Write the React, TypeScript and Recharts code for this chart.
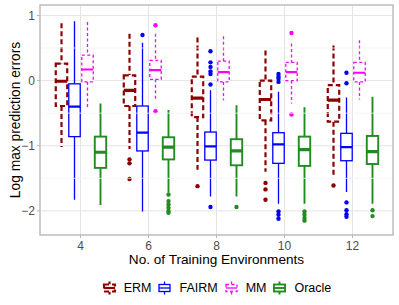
import React from 'react';
import { ComposedChart, Bar, XAxis, YAxis, CartesianGrid, ReferenceLine } from 'recharts';

const environments = ['4', '6', '8', '10', '12'];

// [lower whisker, Q1, median, Q3, upper whisker] for each environment count
const ermBoxes = [
  [-1.02, -0.39, -0.01, 0.26, 0.88],
  [-1.05, -0.39, -0.15, 0.08, 0.72],
  [-1.37, -0.56, -0.27, 0.06, 0.66],
  [-1.4, -0.61, -0.29, 0.0, 0.46],
  [-1.48, -0.63, -0.3, -0.07, 0.54],
];
const ermOutliers = [[], [-1.21, -1.27, -1.51], [-1.62], [-1.57, -1.67, -1.83], [-1.61]];

const fairmBoxes = [
  [-1.83, -0.86, -0.4, -0.05, 0.91],
  [-2.01, -1.08, -0.8, -0.39, 0.58],
  [-1.78, -1.22, -1.01, -0.79, -0.15],
  [-1.89, -1.27, -0.98, -0.8, -0.17],
  [-1.71, -1.23, -1.02, -0.81, -0.26],
];
const fairmOutliers = [
  [],
  [0.7],
  [0.45, 0.28, 0.21, 0.14, 0.1, -0.06, -1.94],
  [0.1, 0.06, 0.03, -0.02, -2.01, -2.06, -2.12],
  [0.12, -0.04, -1.87, -1.99, -2.05, -2.09],
];

const mmBoxes = [
  [-0.43, -0.02, 0.17, 0.39, 0.9],
  [-0.3, 0.02, 0.16, 0.31, 0.72],
  [-0.3, -0.02, 0.13, 0.3, 0.68],
  [-0.35, 0.0, 0.13, 0.28, 0.57],
  [-0.29, -0.02, 0.12, 0.28, 0.62],
];
const mmOutliers = [[], [0.85, -0.47], [], [0.73, -0.52], []];

const oracleBoxes = [
  [-1.91, -1.34, -1.1, -0.86, -0.35],
  [-1.72, -1.21, -1.02, -0.87, -0.45],
  [-1.78, -1.3, -1.08, -0.9, -0.38],
  [-1.89, -1.31, -1.06, -0.86, -0.41],
  [-1.89, -1.28, -1.09, -0.85, -0.25],
];
const oracleOutliers = [
  [],
  [-1.75, -1.85, -1.9, -1.95, -2.0, -2.03],
  [-1.94],
  [-2.01, -2.06, -2.11, -2.15],
  [-1.99, -2.08],
];

const yTicks = [-2, -1, 0, 1];
const minorTicks = [-1.5, -0.5, 0.5];

const FONT = '"Liberation Sans", Arial, Helvetica, sans-serif';

const series = [
  { name: 'ERM', boxes: ermBoxes, outliers: ermOutliers, color: '#8B0000', lw: 2.2, dash: '5 3', medW: 3.2 },
  { name: 'FAIRM', boxes: fairmBoxes, outliers: fairmOutliers, color: '#0000FF', lw: 1.3, dash: undefined, medW: 2.2 },
  { name: 'MM', boxes: mmBoxes, outliers: mmOutliers, color: '#FF00FF', lw: 1.3, dash: '3 2.5', medW: 2.2 },
  { name: 'Oracle', boxes: oracleBoxes, outliers: oracleOutliers, color: '#228B22', lw: 1.9, dash: undefined, medW: 3.2 },
];

const data = environments.map((env, i) => {
  const row: any = { env };
  series.forEach((s) => {
    const vals = [...s.boxes[i], ...s.outliers[i]];
    row[s.name] = [Math.min(...vals), Math.max(...vals)];
  });
  return row;
});

const makeBoxShape = (s: any) => (props: any) => {
  const { x, y, width, height, payload } = props;
  const i = environments.indexOf(payload.env);
  if (i < 0) return <g />;
  const [lo, hi] = payload[s.name];
  const top = Math.min(y, y + height);
  const bottom = Math.max(y, y + height);
  const pix = (v: number) => bottom - ((v - lo) / (hi - lo)) * (bottom - top);
  const [wLo, q1, med, q3, wHi] = s.boxes[i];
  const cx = x + width / 2;
  const half = (width * 0.88) / 2;
  const x0 = cx - half;
  const stroke = { stroke: s.color, strokeWidth: s.lw, strokeDasharray: s.dash, fill: 'none' };

  return (
    <g>
      <line x1={cx} x2={cx} y1={pix(wHi)} y2={pix(q3)} {...stroke} />
      <line x1={cx} x2={cx} y1={pix(q1)} y2={pix(wLo)} {...stroke} />
      <rect x={x0} y={pix(q3)} width={half * 2} height={pix(q1) - pix(q3)} {...stroke} fill="#fff" />
      <line x1={x0} x2={x0 + half * 2} y1={pix(med)} y2={pix(med)} stroke={s.color} strokeWidth={s.medW} />
      {s.outliers[i].map((v: number, k: number) => (
        <circle key={k} cx={cx} cy={pix(v)} r={2.2} fill={s.color} />
      ))}
    </g>
  );
};

const LegendIcon = ({ s }: { s: any }) => (
  <svg width={15} height={14} style={{ display: 'block' }}>
    <line x1={7.5} x2={7.5} y1={0.5} y2={3.5} stroke={s.color} strokeWidth={s.lw} strokeDasharray={s.dash} />
    <line x1={7.5} x2={7.5} y1={10.5} y2={13.5} stroke={s.color} strokeWidth={s.lw} strokeDasharray={s.dash} />
    <rect x={2} y={3.5} width={11} height={7} fill="#fff" stroke={s.color} strokeWidth={s.lw} strokeDasharray={s.dash} />
    <line x1={2} x2={13} y1={7} y2={7} stroke={s.color} strokeWidth={s.lw} />
  </svg>
);

const fmtY = (v: number) => (v < 0 ? '\u2212' + Math.abs(v) : String(v));

export default function App() {
  return (
    <div style={{ position: 'absolute', left: 0, top: 0, width: 399, height: 305, background: '#fff', fontFamily: FONT }}>
      <ComposedChart
        width={399}
        height={305}
        data={data}
        margin={{ top: 5, right: 6, bottom: 53, left: 0 }}
        barCategoryGap="12.5%"
        barGap={0}
      >
        <CartesianGrid stroke="#E4E4E4" strokeWidth={1} />
        {minorTicks.map((t) => (
          <ReferenceLine key={t} y={t} stroke="#F2F2F2" strokeWidth={0.8} />
        ))}
        <XAxis
          dataKey="env"
          padding={{ left: 6.5, right: 6.5 }}
          height={17}
          axisLine={false}
          tickSize={3}
          tickMargin={3}
          tickLine={{ stroke: '#B3B3B3' }}
          tick={{ fill: '#4D4D4D', fontSize: 12 }}
          label={{ value: 'No. of Training Environments', position: 'bottom', offset: 2, fill: '#000', fontSize: 13.6 }}
        />
        <YAxis
          type="number"
          domain={[-2.37, 1.16]}
          ticks={yTicks}
          allowDataOverflow
          width={40}
          axisLine={false}
          tickSize={3}
          tickMargin={2}
          tickLine={{ stroke: '#B3B3B3' }}
          tick={{ fill: '#4D4D4D', fontSize: 12 }}
          tickFormatter={fmtY}
          label={{
            value: 'Log max prediction errors',
            angle: -90,
            position: 'insideLeft',
            offset: 15,
            fill: '#000',
            fontSize: 13.8,
            style: { textAnchor: 'middle' },
          }}
        />
        {series.map((s) => (
          <Bar key={s.name} dataKey={s.name} shape={makeBoxShape(s)} isAnimationActive={false} />
        ))}
      </ComposedChart>
      <svg width={399} height={305} style={{ position: 'absolute', left: 0, top: 0, pointerEvents: 'none' }}>
        <rect x={40} y={5} width={353} height={230} fill="none" stroke="#BEBEBE" strokeWidth={1.4} />
      </svg>
      <div
        style={{
          position: 'absolute',
          left: 40,
          width: 359,
          top: 281,
          display: 'flex',
          justifyContent: 'center',
          alignItems: 'center',
          fontSize: 12.5,
          color: '#000',
        }}
      >
        {series.map((s) => (
          <div key={s.name} style={{ display: 'flex', alignItems: 'center', marginRight: 6 }}>
            <LegendIcon s={s} />
            <span style={{ marginLeft: 7 }}>{s.name}</span>
          </div>
        ))}
      </div>
    </div>
  );
}
